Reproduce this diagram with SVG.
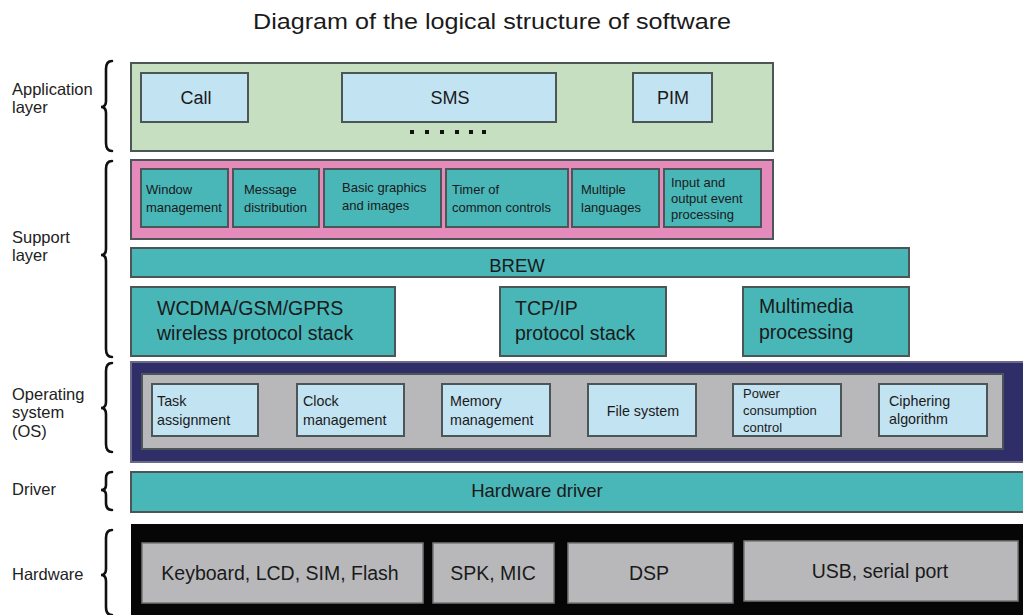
<svg xmlns="http://www.w3.org/2000/svg" width="1023" height="615" viewBox="0 0 1023 615">
  <style>
    text { font-family: "Liberation Sans", Arial, sans-serif; fill: #1a1a1a; }
    .title { font-size: 22px; }
    .lbl { font-size: 16.5px; fill: #222; }
    .brace { fill: none; stroke: #111; stroke-width: 2.6; stroke-linecap: round; }
    .box { stroke: #4d5656; stroke-width: 2; }
    .app { fill: #c5dfc0; }
    .lblue { fill: #c2e3f2; }
    .pink { fill: #e58bbb; }
    .teal { fill: #49b6b8; }
    .navy { fill: #2f2e68; stroke: #6a6a88; }
    .grey { fill: #b8b8bb; }
    .hwbg { fill: #060606; stroke: none; }
    .hwbox { fill: #b8b8ba; stroke: #777; stroke-width: 1.5; }
    .t16 { font-size: 18px; text-anchor: middle; }
    .t13 { font-size: 13px; }
    .t14 { font-size: 14.3px; }
    .t19 { font-size: 19.5px; }
    .t18c { font-size: 18.5px; text-anchor: middle; }
    .hw { font-size: 19.5px; text-anchor: middle; }
    .dot { fill: #111; }
  </style>

  <rect width="1023" height="615" fill="#ffffff"/>

  <text class="title" x="253" y="29" textLength="478" lengthAdjust="spacingAndGlyphs">Diagram of the logical structure of software</text>

  <!-- layer labels with braces -->
  <g id="labels">
    <text class="lbl" x="12" y="95">Application</text>
    <text class="lbl" x="12" y="113">layer</text>
    <path class="brace" d="M112 61 Q106 61 106 69 L106 101 Q106 107 101 107 Q106 107 106 113 L106 143 Q106 151 112 151"/>

    <text class="lbl" x="12" y="243">Support</text>
    <text class="lbl" x="12" y="261">layer</text>
    <path class="brace" d="M112 161 Q106 161 106 169 L106 249 Q106 255 101 255 Q106 255 106 261 L106 349 Q106 357 112 357"/>

    <text class="lbl" x="12" y="400">Operating</text>
    <text class="lbl" x="12" y="418">system</text>
    <text class="lbl" x="12" y="437">(OS)</text>
    <path class="brace" d="M112 363 Q106 363 106 371 L106 402 Q106 408 101 408 Q106 408 106 414 L106 444 Q106 452 112 452"/>

    <text class="lbl" x="12" y="495">Driver</text>
    <path class="brace" d="M112 472 Q106 472 106 478 L106 485 Q106 490 101 490 Q106 490 106 495 L106 503 Q106 510 112 510"/>

    <text class="lbl" x="12" y="580">Hardware</text>
    <path class="brace" d="M112 530 Q106 530 106 538 L106 569 Q106 575 101 575 Q106 575 106 581 L106 607 Q106 615 112 615"/>
  </g>

  <!-- application layer -->
  <g id="application-layer">
    <rect class="box app" x="131" y="63" width="642" height="88"/>
    <g id="call">
      <rect class="box lblue" x="141" y="73" width="107" height="49"/>
      <text class="t16" x="196" y="104">Call</text>
    </g>
    <g id="sms">
      <rect class="box lblue" x="342" y="73" width="214" height="49"/>
      <text class="t16" x="450" y="104">SMS</text>
    </g>
    <g id="pim">
      <rect class="box lblue" x="633" y="73" width="79" height="49"/>
      <text class="t16" x="673" y="104">PIM</text>
    </g>
    <g id="more-apps">
      <rect class="dot" x="410" y="130" width="4" height="4"/>
      <rect class="dot" x="425" y="130" width="4" height="4"/>
      <rect class="dot" x="440" y="130" width="4" height="4"/>
      <rect class="dot" x="455" y="130" width="4" height="4"/>
      <rect class="dot" x="469" y="130" width="4" height="4"/>
      <rect class="dot" x="482" y="130" width="4" height="4"/>
    </g>
  </g>

  <!-- support layer: UI services -->
  <g id="support-services">
    <rect class="box pink" x="131" y="160" width="642" height="79"/>
    <g id="window-management">
      <rect class="box teal" x="141" y="169" width="87" height="58"/>
      <text class="t13" x="146" y="194">Window</text>
      <text class="t13" x="146" y="212">management</text>
    </g>
    <g id="message-distribution">
      <rect class="box teal" x="233" y="169" width="86" height="58"/>
      <text class="t13" x="244" y="194">Message</text>
      <text class="t13" x="244" y="212">distribution</text>
    </g>
    <g id="basic-graphics">
      <rect class="box teal" x="324" y="169" width="117" height="58"/>
      <text class="t13" x="342" y="192">Basic graphics</text>
      <text class="t13" x="342" y="210">and images</text>
    </g>
    <g id="timer">
      <rect class="box teal" x="446" y="169" width="122" height="58"/>
      <text class="t13" x="452" y="194">Timer of</text>
      <text class="t13" x="452" y="212">common controls</text>
    </g>
    <g id="multiple-languages">
      <rect class="box teal" x="572" y="169" width="87" height="58"/>
      <text class="t13" x="581" y="194">Multiple</text>
      <text class="t13" x="581" y="212">languages</text>
    </g>
    <g id="io-events">
      <rect class="box teal" x="664" y="169" width="97" height="58"/>
      <text class="t13" x="671" y="187">Input and</text>
      <text class="t13" x="671" y="203">output event</text>
      <text class="t13" x="671" y="219">processing</text>
    </g>
  </g>

  <g id="brew">
    <rect class="box teal" x="131" y="248" width="778" height="29"/>
    <text class="t18c" x="517" y="272">BREW</text>
  </g>

  <g id="wireless-stack">
    <rect class="box teal" x="131" y="287" width="264" height="69"/>
    <text class="t19" x="157" y="315">WCDMA/GSM/GPRS</text>
    <text class="t19" x="157" y="340">wireless protocol stack</text>
  </g>
  <g id="tcpip-stack">
    <rect class="box teal" x="500" y="287" width="166" height="69"/>
    <text class="t19" x="515" y="315">TCP/IP</text>
    <text class="t19" x="515" y="340">protocol stack</text>
  </g>
  <g id="multimedia">
    <rect class="box teal" x="743" y="287" width="166" height="69"/>
    <text class="t19" x="759" y="313">Multimedia</text>
    <text class="t19" x="759" y="339">processing</text>
  </g>

  <!-- operating system -->
  <g id="operating-system">
    <rect class="box navy" x="131" y="362" width="895" height="100"/>
    <rect class="box grey" x="142" y="374" width="861" height="75" stroke="#3a3a55"/>
    <g id="task-assignment">
      <rect class="box lblue" x="152" y="384" width="106" height="52"/>
      <text class="t14" x="157" y="406">Task</text>
      <text class="t14" x="157" y="425">assignment</text>
    </g>
    <g id="clock-management">
      <rect class="box lblue" x="297" y="384" width="107" height="52"/>
      <text class="t14" x="303" y="406">Clock</text>
      <text class="t14" x="303" y="425">management</text>
    </g>
    <g id="memory-management">
      <rect class="box lblue" x="442" y="384" width="108" height="52"/>
      <text class="t14" x="450" y="406">Memory</text>
      <text class="t14" x="450" y="425">management</text>
    </g>
    <g id="file-system">
      <rect class="box lblue" x="588" y="384" width="108" height="52"/>
      <text class="t14" x="643" y="416" text-anchor="middle">File system</text>
    </g>
    <g id="power-control">
      <rect class="box lblue" x="733" y="384" width="108" height="52"/>
      <text class="t13" x="743" y="398">Power</text>
      <text class="t13" x="743" y="415">consumption</text>
      <text class="t13" x="743" y="432">control</text>
    </g>
    <g id="ciphering">
      <rect class="box lblue" x="879" y="384" width="108" height="52"/>
      <text class="t14" x="889" y="406">Ciphering</text>
      <text class="t14" x="889" y="424">algorithm</text>
    </g>
  </g>

  <g id="hardware-driver">
    <rect class="box teal" x="131" y="472" width="895" height="40"/>
    <text class="t18c" x="537" y="497">Hardware driver</text>
  </g>

  <!-- hardware -->
  <g id="hardware">
    <rect class="hwbg" x="131" y="524" width="892" height="91"/>
    <g id="hw-io">
      <rect class="hwbox" x="142" y="543" width="281" height="60"/>
      <text class="hw" x="280" y="580">Keyboard, LCD, SIM, Flash</text>
    </g>
    <g id="hw-audio">
      <rect class="hwbox" x="433" y="543" width="121" height="60"/>
      <text class="hw" x="493" y="580">SPK, MIC</text>
    </g>
    <g id="hw-dsp">
      <rect class="hwbox" x="568" y="543" width="165" height="60"/>
      <text class="hw" x="649" y="580">DSP</text>
    </g>
    <g id="hw-ports">
      <rect class="hwbox" x="744" y="541" width="274" height="60"/>
      <text class="hw" x="880" y="578">USB, serial port</text>
    </g>
  </g>
</svg>
